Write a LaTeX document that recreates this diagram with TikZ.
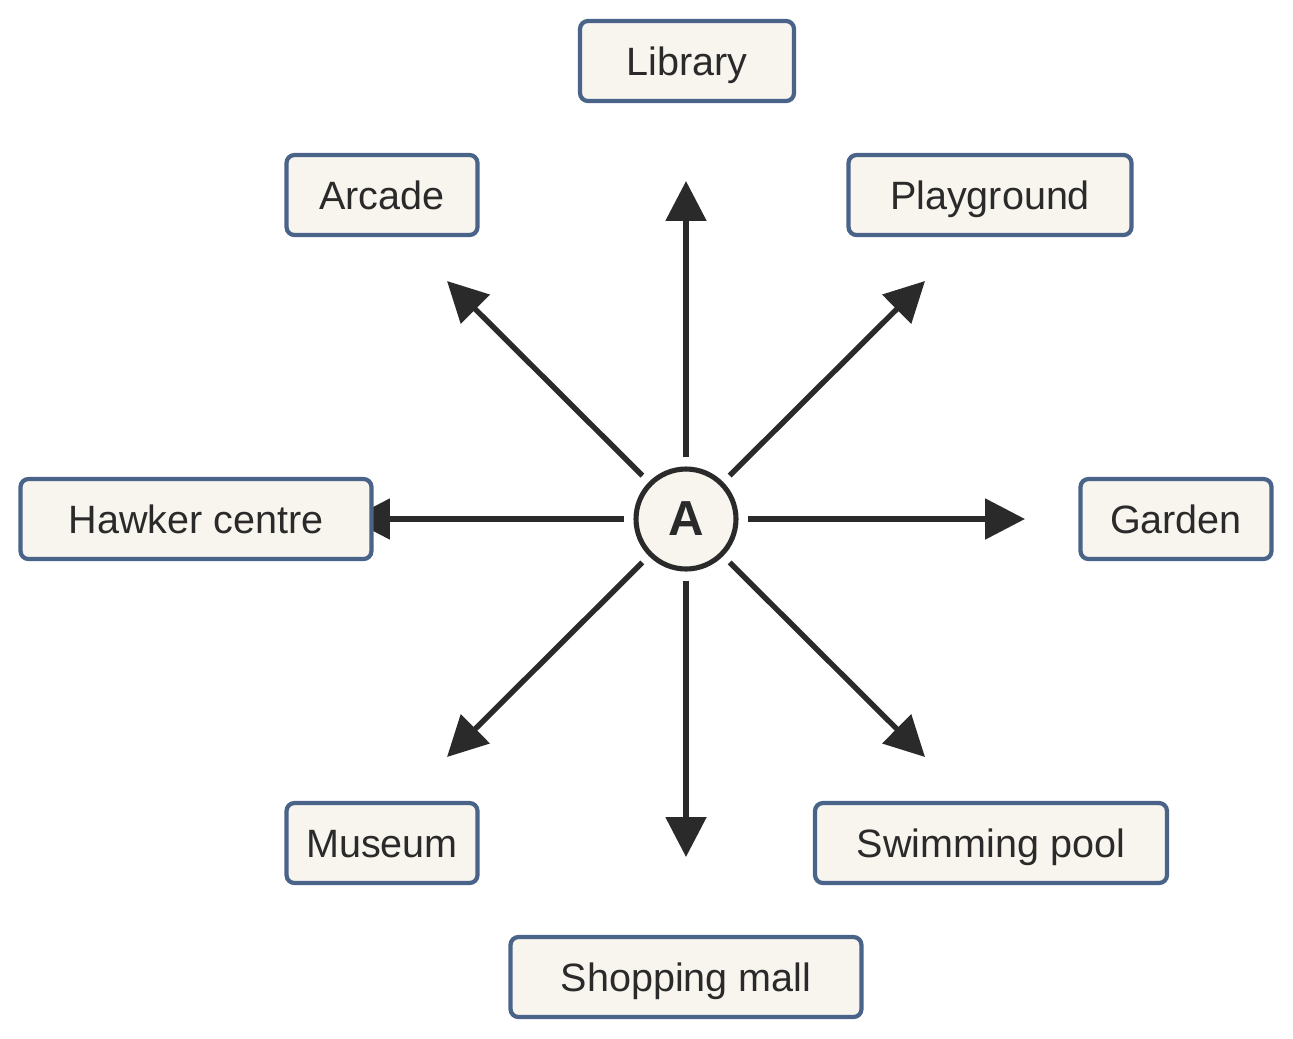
\documentclass[tikz,border=0pt]{standalone}
\usepackage{fontspec}
\setmainfont{Liberation Sans}
\usetikzlibrary{arrows.meta}
\definecolor{boxedge}{HTML}{4A6489}
\definecolor{boxfill}{HTML}{F8F4EE}
\definecolor{ink}{HTML}{2A2A2A}
\tikzset{
  place/.style={draw=boxedge, fill=boxfill, line width=2.4pt, rounded corners=4.5pt,
    minimum height=1.6cm, text height=16.1pt, text depth=0pt, text=ink,
    font=\fontsize{22.5}{27}\selectfont},
  hub/.style={circle, draw=ink, fill=boxfill, line width=2.9pt, minimum size=2cm,
    inner sep=0pt, text=ink, font=\fontsize{28}{32}\selectfont\bfseries},
  way/.style={->, draw=ink, line width=3.1pt, shorten <=0.18cm}
}

\begin{document}
\begin{tikzpicture}[x=0.02cm, y=-0.02cm, >={Triangle[length=8mm,width=8mm]}]
\useasboundingbox (0,0) rectangle (1293,1038);
\node[hub] (A) at (686,519) {A};
% ends of the eight arrows
\coordinate (tN) at (686,181);
\coordinate (tNE) at (925,281);
\coordinate (tE) at (1025,519);
\coordinate (tSE) at (925,757);
\coordinate (tS) at (686,857);
\coordinate (tSW) at (447,757);
\coordinate (tW) at (350,519);
\coordinate (tNW) at (447,281);
\foreach \t in {tN,tNE,tE,tSE,tS,tSW,tW,tNW}
  \draw[way] (A) -- (\t);
% places
\node[place, minimum width=4.28cm] (library) at (687,61) {Library};
\node[place, minimum width=3.82cm] (arcade) at (382,195) {Arcade};
\node[place, minimum width=5.66cm] (playground) at (990,195) {Playground};
\node[place, minimum width=7.02cm] (hawker) at (196,519) {Hawker centre};
\node[place, minimum width=3.82cm] (garden) at (1176,519) {Garden};
\node[place, minimum width=3.82cm] (museum) at (382,843) {Museum};
\node[place, minimum width=7.04cm] (pool) at (991,843) {Swimming pool};
\node[place, minimum width=7.02cm] (mall) at (686,977) {Shopping mall};
\end{tikzpicture}
\end{document}
